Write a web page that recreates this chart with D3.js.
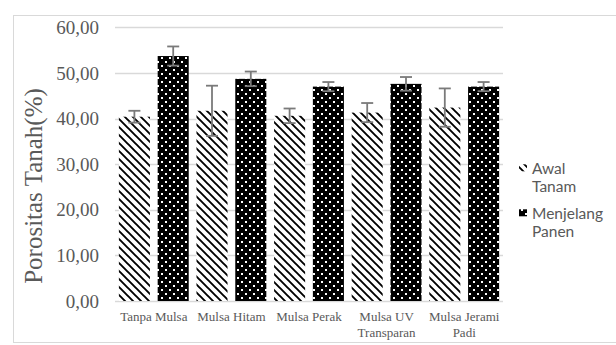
<!DOCTYPE html>
<html>
<head>
<meta charset="utf-8">
<script src="https://cdn.jsdelivr.net/npm/d3@7"></script>
<style>
  body { margin: 0; background: #fff; }
  svg { display: block; }
</style>
</head>
<body>
<div id="main"></div>
<script>
const categories = ["Tanpa Mulsa", "Mulsa Hitam", "Mulsa Perak", "Mulsa UV Transparan", "Mulsa Jerami Padi"];
const categoryLines = [["Tanpa Mulsa"], ["Mulsa Hitam"], ["Mulsa Perak"], ["Mulsa UV", "Transparan"], ["Mulsa Jerami", "Padi"]];
const seriesNames = ["Awal Tanam", "Menjelang Panen"];
const legendLines = [["Awal", "Tanam"], ["Menjelang", "Panen"]];
const awalValues = [40.4, 41.7, 40.6, 41.3, 42.4];
const awalErrors = [1.3, 5.5, 1.6, 2.1, 4.2];
const panenValues = [53.7, 48.7, 47.0, 47.6, 47.0];
const panenErrors = [2.1, 1.6, 1.0, 1.5, 1.0];
const yTicks = [0, 10, 20, 30, 40, 50, 60];

const ctx = {
    w: 616,
    h: 345,
    left: 115,
    right: 503,
    top: 27.3,
    bottom: 301,
    TEXT: "#595959",
    GRID: "#d9d9d9",
    ERR: "#7a7a7a",
};

const rows = [];
categories.forEach(function(c, i){
    rows.push({cat: c, series: seriesNames[0], value: awalValues[i], err: awalErrors[i], pat: "url(#hatch)"});
    rows.push({cat: c, series: seriesNames[1], value: panenValues[i], err: panenErrors[i], pat: "url(#dots)"});
});

const svg = d3.select("#main").append("svg")
    .attr("width", ctx.w).attr("height", ctx.h);

// patterns
const defs = svg.append("defs");
const hatch = defs.append("pattern").attr("id", "hatch")
    .attr("patternUnits", "userSpaceOnUse").attr("width", 8).attr("height", 8);
hatch.append("rect").attr("width", 8).attr("height", 8).attr("fill", "#fff");
hatch.append("path").attr("d", "M-2,-2 L10,10 M-2,6 L2,10 M6,-2 L10,2")
    .attr("stroke", "#000").attr("stroke-width", 1.9);

const dots = defs.append("pattern").attr("id", "dots")
    .attr("patternUnits", "userSpaceOnUse").attr("width", 8).attr("height", 8);
dots.append("rect").attr("width", 8).attr("height", 8).attr("fill", "#000");
dots.append("rect").attr("x", 1).attr("y", 1).attr("width", 2).attr("height", 2).attr("fill", "#fff");
dots.append("rect").attr("x", 5).attr("y", 5).attr("width", 2).attr("height", 2).attr("fill", "#fff");

// chart border
svg.append("rect").attr("x", 13.5).attr("y", 15.5)
    .attr("width", ctx.w).attr("height", 327)
    .attr("fill", "none").attr("stroke", ctx.GRID);

const x0 = d3.scaleBand().domain(categories).range([ctx.left, ctx.right]).padding(0);
const x1 = d3.scaleBand().domain(seriesNames).range([0, x0.bandwidth()])
    .paddingInner(0.2).paddingOuter(0.1);
const y = d3.scaleLinear().domain([0, 60]).range([ctx.bottom, ctx.top]);

// gridlines
svg.append("g").selectAll("line").data(yTicks).enter().append("line")
    .attr("x1", ctx.left).attr("x2", ctx.right)
    .attr("y1", d => Math.round(y(d)) + 0.5).attr("y2", d => Math.round(y(d)) + 0.5)
    .attr("stroke", ctx.GRID).attr("stroke-width", 1.3);

// y tick labels
svg.append("g").selectAll("text").data(yTicks).enter().append("text")
    .attr("x", 99).attr("y", d => y(d)).attr("dy", "0.35em")
    .attr("text-anchor", "end")
    .attr("font-family", "'Liberation Serif', 'Times New Roman', serif")
    .attr("font-size", 19).attr("fill", ctx.TEXT)
    .text(d => d3.format(".2f")(d).replace(".", ","));

// y title
svg.append("text")
    .attr("transform", "translate(42,186) rotate(-90)")
    .attr("text-anchor", "middle")
    .attr("font-family", "'Liberation Serif', 'Times New Roman', serif")
    .attr("font-size", 25).attr("fill", ctx.TEXT)
    .text("Porositas Tanah(%)");

// bars
svg.append("g").selectAll("rect").data(rows).enter().append("rect")
    .attr("x", d => x0(d.cat) + x1(d.series))
    .attr("width", x1.bandwidth())
    .attr("y", d => y(d.value))
    .attr("height", d => y(0) - y(d.value))
    .attr("fill", d => d.pat);

// error bars
const eb = svg.append("g").attr("stroke", ctx.ERR).attr("stroke-width", 1.8);
rows.forEach(function(d){
    const cx = x0(d.cat) + x1(d.series) + x1.bandwidth() / 2;
    const t = y(d.value + d.err), b = y(d.value - d.err);
    eb.append("line").attr("x1", cx).attr("x2", cx).attr("y1", t).attr("y2", b);
    eb.append("line").attr("x1", cx - 6).attr("x2", cx + 6).attr("y1", t).attr("y2", t);
    eb.append("line").attr("x1", cx - 6).attr("x2", cx + 6).attr("y1", b).attr("y2", b);
});

// x labels
const xl = svg.append("g")
    .attr("font-family", "'Liberation Serif', 'Times New Roman', serif")
    .attr("font-size", 13).attr("fill", ctx.TEXT).attr("text-anchor", "middle");
categories.forEach(function(c, i){
    categoryLines[i].forEach(function(line, j){
        xl.append("text")
          .attr("x", x0(c) + x0.bandwidth() / 2)
          .attr("y", 321 + j * 15.6)
          .text(line);
    });
});

// legend
const lg = svg.append("g")
    .attr("font-family", "Lato, 'Open Sans', sans-serif")
    .attr("font-size", 15.5).attr("fill", ctx.TEXT);
seriesNames.forEach(function(s, i){
    const top = 168.3 + i * 45;
    lg.append("rect").attr("x", 519).attr("y", top - 4).attr("width", 8).attr("height", 7)
      .attr("fill", i === 0 ? "url(#hatch)" : "url(#dots)");
    legendLines[i].forEach(function(line, j){
        lg.append("text").attr("x", 532).attr("y", top + j * 18.4).attr("dy", "0.35em").text(line);
    });
});
</script>
</body>
</html>
